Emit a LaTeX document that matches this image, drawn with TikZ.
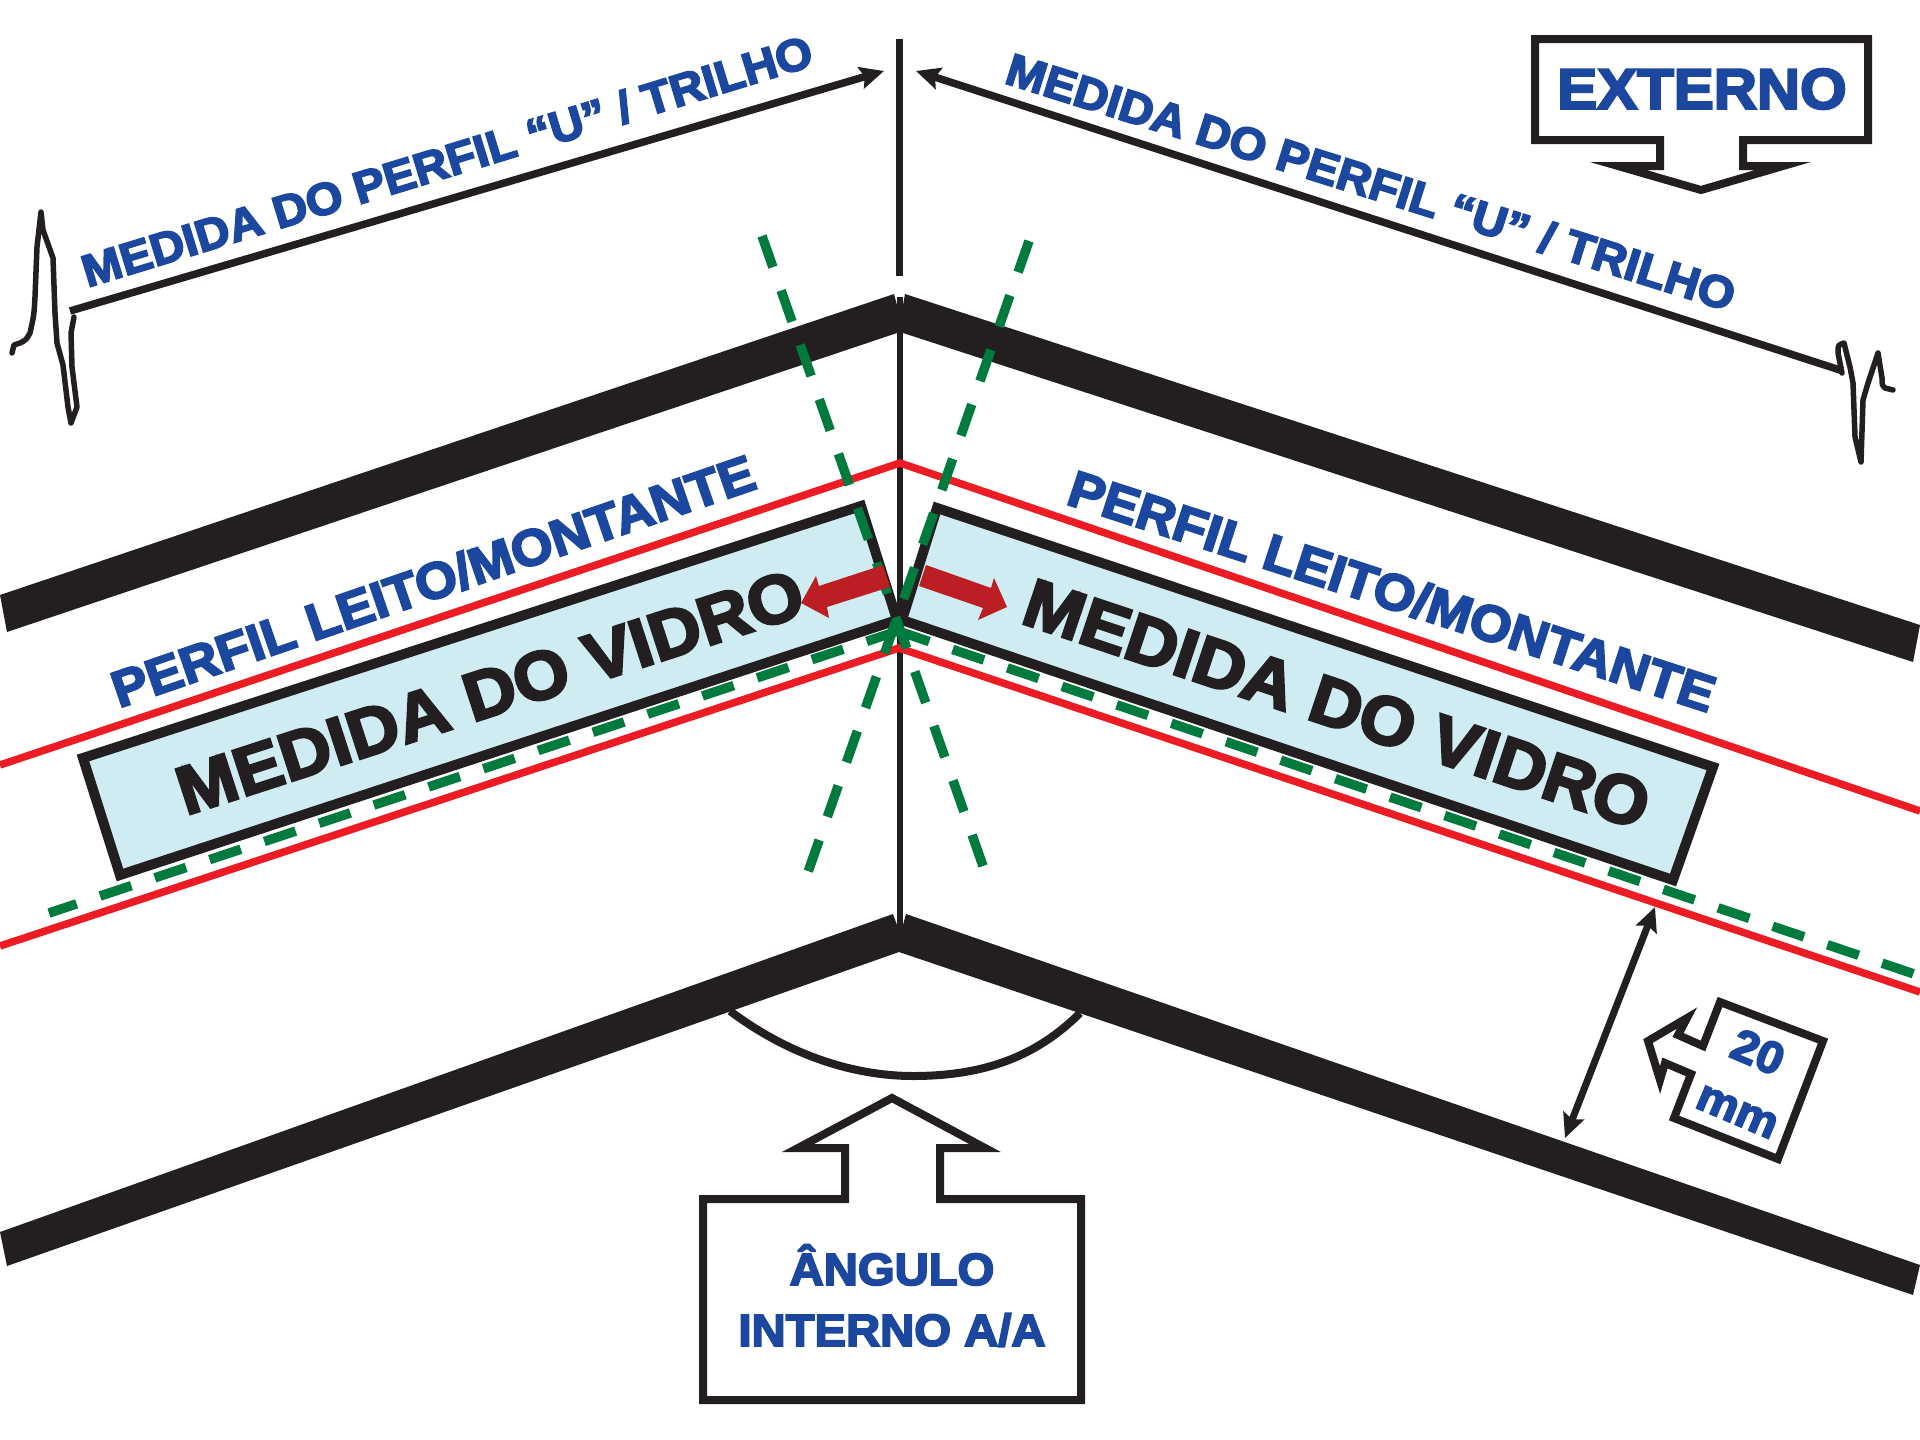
\documentclass[tikz,border=0pt]{standalone}
\usepackage{fontspec}
\usetikzlibrary{arrows.meta}
\newfontfamily\blk[UprightFont=* Bold,FakeBold=4,FakeStretch=1.05]{Liberation Sans}
\definecolor{ink}{HTML}{231F20}
\definecolor{lblue}{HTML}{1C479F}
\definecolor{rline}{HTML}{ED1C24}
\definecolor{gline}{HTML}{007A3D}
\definecolor{glass}{HTML}{D0ECF3}
\definecolor{darr}{HTML}{BB1F24}
\tikzset{
  beam/.style={fill=ink,draw=none},
  redline/.style={draw=rline,line width=7.5pt},
  greendash/.style={draw=gline,line width=9.5pt,dash pattern=on 33pt off 24.7pt},
  glassbox/.style={draw=ink,fill=glass,line width=10pt,miter limit=10},
  callout/.style={draw=ink,fill=white,line width=8pt,miter limit=20},
  break/.style={draw=ink,line width=5.5pt,line join=round,line cap=round},
  dimline/.style={draw=ink,line width=7.5pt,-{Stealth[length=24pt,width=22pt,inset=4pt]}},
  dimdouble/.style={draw=ink,line width=7pt,{Stealth[length=24pt,width=22pt,inset=4pt]}-{Stealth[length=24pt,width=22pt,inset=4pt]}},
  bluetxt/.style={text=lblue,font=\blk\fontsize{#1}{#1}\selectfont,inner sep=0pt},
  blacktxt/.style={text=ink,font=\blk\fontsize{#1}{#1}\selectfont,inner sep=0pt},
}
\begin{document}
\begin{tikzpicture}[x=1pt,y=-1pt]
\useasboundingbox (0,0) rectangle (1920,1440);
% vertical lines
\coordinate (vt1) at (899.5,39);
\coordinate (vt2) at (899.5,276);
\coordinate (vm1) at (899.5,297);
\coordinate (vm2) at (899.5,925);
\draw[ink,line width=7.5pt] (vt1) -- (vt2);
\draw[ink,line width=6pt] (vm1) -- (vm2);
% angle arc
\coordinate (a1) at (730,1011);
\coordinate (a2) at (913,1076);
\coordinate (a3) at (1080,1013);
\draw[ink,line width=8pt] (a1) .. controls (790,1056) and (855,1076) .. (a2) .. controls (985,1076) and (1037,1056) .. (a3);
% beams
\fill[beam] (0,595) -- (894,294) -- (897,305) -- (903,305) -- (905,294) -- (1920,625) -- (1913,662) -- (900,332) -- (7,632) -- cycle;
\fill[beam] (0,1232) -- (893,914) -- (897,925) -- (903,925) -- (906,914) -- (1920,1265) -- (1913,1295) -- (899,952) -- (7,1266) -- cycle;
% red lines
\coordinate (ru0) at (0,765);
\coordinate (ru1) at (900,463);
\coordinate (ru2) at (1920,811);
\coordinate (rl0) at (0,946);
\coordinate (rl1) at (899,648);
\coordinate (rl2) at (1920,992);
\draw[redline] (ru0) -- (ru1) -- (ru2);
% glass
\draw[glassbox] (861,506) -- (897,620) -- (120,875) -- (83,758) -- cycle;
\draw[glassbox] (937,508) -- (1713,767) -- (1673,880) -- (902,620) -- cycle;
\draw[redline] (rl0) -- (rl1) -- (rl2);
% green
\coordinate (g1) at (762,236);
\coordinate (g2) at (983,866);
\coordinate (g3) at (1029,241);
\coordinate (g4) at (808,872);
\coordinate (g5) at (49,913);
\coordinate (g6) at (898,631);
\coordinate (g7) at (1920,976);
\draw[greendash] (g1) -- (g2);
\draw[greendash] (g3) -- (g4);
\draw[greendash] (g6) -- (g5);
\draw[greendash] (g6) -- (g7);
% double red arrows
\fill[darr] (801,603) -- (816,576) -- (819,586) -- (883,565) -- (890,587) -- (827,607) -- (829,618) -- cycle;
\fill[darr] (1007,607) -- (994,578) -- (991,588) -- (926,565) -- (919,586) -- (983,608) -- (978,620) -- cycle;
% dims
\coordinate (d1) at (70,311);
\coordinate (d2) at (884,71);
\coordinate (d3) at (1843,371);
\coordinate (d4) at (916,71);
\coordinate (d5) at (1655,907);
\coordinate (d6) at (1565,1138);
\draw[dimline] (d1) -- (d2);
\draw[dimline] (d3) -- (d4);
\draw[dimdouble] (d5) -- (d6);
% break marks
\draw[break] (12,353) -- (14,345) -- (20,343) .. controls (26,340) .. (30,333) .. controls (34,315) .. (35,297) -- (37,247) -- (41,212) -- (43,230) -- (53,258) -- (55,313) -- (57,343) -- (63,365) -- (68,407) -- (71,423) -- (77,407) -- (72,367) -- (71,333) -- (74,317);
\draw[break] (1893,390) -- (1885,388) .. controls (1882,385) .. (1882,378) -- (1878,353) -- (1868,383) -- (1863,400) -- (1861,462) -- (1855,437) -- (1853,383) -- (1850,367) -- (1844,343) .. controls (1838,345) .. (1838,353) -- (1842,373);
% callouts
\draw[callout] (1535,39) -- (1868,39) -- (1868,140) -- (1743,140) -- (1743,166) -- (1783,166) -- (1701,190) -- (1618,166) -- (1660,166) -- (1660,140) -- (1535,140) -- cycle;
\draw[callout] (703,1199) -- (845,1199) -- (845,1148) -- (798,1148) -- (892,1098) -- (985,1148) -- (940,1148) -- (940,1199) -- (1081,1199) -- (1081,1400) -- (703,1400) -- cycle;
\draw[callout] (1720,1002) -- (1823,1041) -- (1778,1159) -- (1674,1118) -- (1691,1074) -- (1665,1063) -- (1660,1080) -- (1648,1041) -- (1687,1018) -- (1678,1035) -- (1703,1046) -- cycle;
% texts
\node[bluetxt=45] (t1) at (447,161) [rotate=17] {MEDIDA DO PERFIL “U” / TRILHO};
\node[bluetxt=45] (t2) at (1371,182) [rotate=-17.5] {MEDIDA DO PERFIL “U” / TRILHO};
\node[bluetxt=51] (t3) at (433,581) [rotate=19] {PERFIL LEITO/MONTANTE};
\node[bluetxt=51] (t4) at (1392,591) [rotate=-18] {PERFIL LEITO/MONTANTE};
\node[blacktxt=68] (t5) at (490,692) [rotate=18] {MEDIDA DO VIDRO};
\node[blacktxt=68] (t6) at (1337,704) [rotate=-18.5] {MEDIDA DO VIDRO};
\node[bluetxt=57] (t7) at (1702,89) {EXTERNO};
\node[bluetxt=45] (t8) at (892,1265) {ÂNGULO};
\node[bluetxt=45] (t9) at (892,1330) {INTERNO A/A};
\node[bluetxt=45] (t10) at (1758,1052) [rotate=-23] {20};
\node[bluetxt=45] (t11) at (1737,1112) [rotate=-23] {mm};
\end{tikzpicture}
\end{document}
